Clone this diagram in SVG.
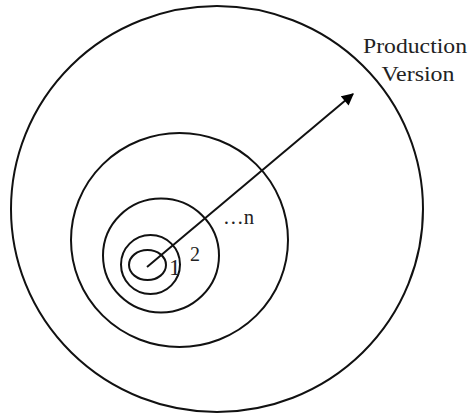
<svg xmlns="http://www.w3.org/2000/svg" width="471" height="416" viewBox="0 0 471 416">
<defs>
<marker id="ah" viewBox="0 0 10 10" refX="9" refY="5" markerWidth="7" markerHeight="6" markerUnits="strokeWidth" orient="auto">
<path d="M0,0 L10,5 L0,10 z" fill="#000"/>
</marker>
<style>
.ring{fill:none;stroke:#111;stroke-width:2}
.lbl{font-family:"Liberation Serif","Times New Roman",serif;fill:#222}
</style>
</defs>
<rect width="471" height="416" fill="#fff"/>
<g id="outer"><ellipse class="ring" cx="217" cy="209" rx="206" ry="203"/></g>
<g id="ring-n"><ellipse class="ring" cx="179.5" cy="240" rx="108.5" ry="107"/></g>
<g id="ring-2"><ellipse class="ring" cx="161" cy="255.5" rx="58" ry="57"/></g>
<g id="ring-1"><ellipse class="ring" cx="150.5" cy="264.5" rx="29.5" ry="29.5"/></g>
<g id="core"><ellipse class="ring" cx="147.5" cy="265" rx="18.5" ry="15"/></g>
<g id="connectors">
<line x1="147" y1="267" x2="353" y2="94" stroke="#111" stroke-width="2" marker-end="url(#ah)"/>
</g>
<g id="labels">
<text class="lbl" x="415" y="53" font-size="22" text-anchor="middle" textLength="104" lengthAdjust="spacingAndGlyphs">Production</text>
<text class="lbl" x="418" y="81" font-size="22" text-anchor="middle" textLength="73" lengthAdjust="spacingAndGlyphs">Version</text>
<text class="lbl" x="223" y="224" font-size="22" textLength="31" lengthAdjust="spacingAndGlyphs">…n</text>
<text class="lbl" x="190" y="261" font-size="20">2</text>
<text class="lbl" x="169" y="275" font-size="23">1</text>
</g>
</svg>
